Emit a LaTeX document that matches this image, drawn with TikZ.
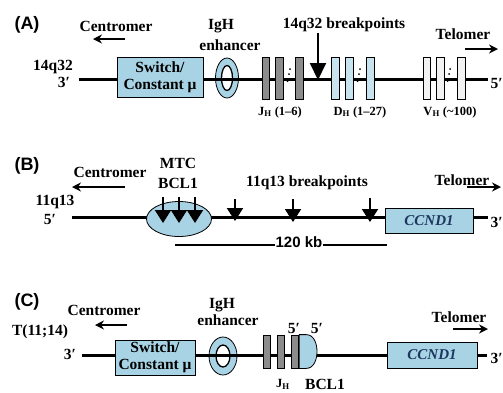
\documentclass[tikz,border=0pt]{standalone}
\usepackage{fontspec}
\setmainfont{Liberation Serif}
\setsansfont{Liberation Sans}
\usetikzlibrary{calc,arrows.meta,shapes.geometric}
\definecolor{GeneBG}{HTML}{A8D3E4}
\definecolor{SegD}{HTML}{C6E3EE}
\definecolor{SegJ}{HTML}{8C8C8C}
\definecolor{SegV}{HTML}{F2F2F2}
\definecolor{GeneText}{HTML}{1C3660}

\begin{document}
\begin{tikzpicture}[x=1pt,y=-1pt,>=Stealth]
  \tikzstyle{lbl}=[font=\fontsize{15.5}{16}\selectfont\bfseries, inner sep=0pt]
  \tikzstyle{subl}=[font=\fontsize{12.5}{13}\selectfont\bfseries, inner sep=0pt]
  \tikzstyle{panel}=[font=\fontsize{18}{18}\selectfont\sffamily\bfseries, inner sep=0pt]
  \tikzstyle{chrom}=[line width=3pt]
  \tikzstyle{genebox}=[draw, fill=GeneBG, line width=0.8pt, inner sep=0pt,
               align=center, font=\fontsize{15.5}{17}\selectfont\bfseries]
  \tikzstyle{ccnd}=[genebox, text=GeneText, font=\fontsize{15}{16}\selectfont\bfseries\itshape]
  \tikzstyle{seg}=[draw, line width=0.8pt, minimum width=7.5pt, inner sep=0pt]
  \tikzstyle{enhout}=[draw, ellipse, fill=GeneBG, line width=0.8pt, inner sep=0pt]
  \tikzstyle{enhin}=[draw, ellipse, fill=white, line width=1.3pt, inner sep=0pt]
  \tikzstyle{dirarr}=[-{Stealth[length=9pt,width=9pt]}, line width=1.4pt]
  \tikzstyle{brkarr}=[-{Triangle[length=13pt,width=16pt]}, line width=2pt]
  \useasboundingbox (0,0) rectangle (503,392);

  % (A) 14q32 locus
  \node[panel] (pA) at (27,25) {(A)};
  \node[lbl] (cenA) at (116,26) {Centromer};
  \coordinate (cenA1) at (125,39);
  \coordinate (cenA2) at (93,39);
  \draw[dirarr] (cenA1) -- (cenA2);
  \node[lbl] (igA) at (221,26) {IgH};
  \node[lbl] (enhA) at (230,45) {enhancer};
  \node[lbl] (locA) at (53,67) {14q32};
  \node[lbl] (endA) at (64,82) {3′};
  \node[lbl, anchor=east] (endA5) at (503,83) {5′};
  \node[enhout, minimum width=23pt, minimum height=40pt] (enhoA) at (227,78) {};
  \node[enhin, minimum width=11pt, minimum height=25pt] (enhiA) at (227,78) {};
  \coordinate (lA1) at (79,79);
  \coordinate (lA2) at (488,79);
  \draw[chrom] (lA1) -- (lA2);
  \node[genebox, minimum width=86pt, minimum height=40pt] (swA) at (160,77) {Switch/\\Constant μ};
  \node[seg, fill=SegJ, minimum height=42pt] (jA1) at (266,78) {};
  \node[seg, fill=SegJ, minimum height=42pt] (jA2) at (279.5,78) {};
  \node[seg, fill=SegJ, minimum height=42pt] (jA3) at (299.5,78) {};
  \node[seg, fill=SegD, minimum height=42pt] (dA1) at (335.5,78) {};
  \node[seg, fill=SegD, minimum height=42pt] (dA2) at (349.5,78) {};
  \node[seg, fill=SegD, minimum height=42pt] (dA3) at (370.5,78) {};
  \node[seg, fill=SegV, minimum height=42pt] (vA1) at (427,78) {};
  \node[seg, fill=SegV, minimum height=42pt] (vA2) at (440.5,78) {};
  \node[seg, fill=SegV, minimum height=42pt] (vA3) at (461.5,78) {};
  \fill (290,69) circle (1pt) (289,74) circle (1pt) (287.5,81) circle (1pt);
  \fill (360,69) circle (1pt) (359,74) circle (1pt) (357.5,81) circle (1pt);
  \fill (450,69) circle (1pt) (449,74) circle (1pt) (447.5,81) circle (1pt);
  \node[lbl] (bkA) at (344,25) {14q32 breakpoints};
  \coordinate (bkA1) at (318,33);
  \coordinate (bkA2) at (318,80);
  \draw[brkarr, -{Triangle[length=17pt,width=16pt]}] (bkA1) -- (bkA2);
  \node[subl] (jA) at (280,112) {J\textsubscript{H} (1–6)};
  \node[subl] (dA) at (360,112) {D\textsubscript{H} (1–27)};
  \node[subl] (vA) at (450,112) {V\textsubscript{H} (\textasciitilde100)};
  \node[lbl] (telA) at (463,34) {Telomer};
  \coordinate (telA1) at (465,49);
  \coordinate (telA2) at (498,49);
  \draw[dirarr] (telA1) -- (telA2);

  % (B) 11q13 locus
  \node[panel] (pB) at (27,166) {(B)};
  \node[lbl] (cenB) at (110,172) {Centromer};
  \coordinate (cenB1) at (125,187);
  \coordinate (cenB2) at (72,187);
  \draw[dirarr] (cenB1) -- (cenB2);
  \node[lbl] (mtcB) at (178,163) {MTC};
  \node[lbl] (bclB) at (178,183) {BCL1};
  \node[lbl] (locB) at (55,202) {11q13};
  \node[lbl] (endB) at (50,219) {5′};
  \node[lbl, anchor=east] (endB3) at (503,222) {3′};
  \coordinate (lB1) at (72,217);
  \coordinate (lB2) at (488,217);
  \draw[chrom] (lB1) -- (lB2);
  \node[enhout, minimum width=65pt, minimum height=35pt] (mtcE) at (179,219) {};
  \node[ccnd, minimum width=88pt, minimum height=25pt] (ccB) at (429,220.5) {CCND1};
  \coordinate (bkB1) at (163,197); \coordinate (bkB1e) at (163,223);
  \coordinate (bkB2) at (179,197); \coordinate (bkB2e) at (179,223);
  \coordinate (bkB3) at (195,197); \coordinate (bkB3e) at (195,223);
  \coordinate (bkB4) at (235,199); \coordinate (bkB4e) at (235,221);
  \coordinate (bkB5) at (293,199); \coordinate (bkB5e) at (293,222);
  \coordinate (bkB6) at (370,198); \coordinate (bkB6e) at (370,222);
  \draw[brkarr] (bkB1) -- (bkB1e);
  \draw[brkarr] (bkB2) -- (bkB2e);
  \draw[brkarr] (bkB3) -- (bkB3e);
  \draw[brkarr] (bkB4) -- (bkB4e);
  \draw[brkarr] (bkB5) -- (bkB5e);
  \draw[brkarr] (bkB6) -- (bkB6e);
  \node[lbl] (bkB) at (307,183) {11q13 breakpoints};
  \node[font=\fontsize{15}{15}\selectfont\sffamily\bfseries, inner sep=0pt] (kb) at (299,242) {120 kb};
  \coordinate (kbL) at (175,245);
  \coordinate (kbR) at (387,245);
  \draw[line width=1.1pt] (kbL) -- (kb.west |- kbL);
  \draw[line width=1.1pt] (kb.east |- kbR) -- (kbR);
  \node[lbl] (telB) at (462,180) {Telomer};
  \coordinate (telB1) at (467,187);
  \coordinate (telB2) at (501,187);
  \draw[dirarr] (telB1) -- (telB2);

  % (C) t(11;14) junction
  \node[panel] (pC) at (27,302) {(C)};
  \node[lbl] (cenC) at (104,310) {Centromer};
  \coordinate (cenC1) at (127,325);
  \coordinate (cenC2) at (95,325);
  \draw[dirarr] (cenC1) -- (cenC2);
  \node[lbl] (igC) at (222,305) {IgH};
  \node[lbl] (enhC) at (228,320) {enhancer};
  \node[lbl] (locC) at (40,332) {T(11;14)};
  \node[lbl] (endC) at (70,354) {3′};
  \node[lbl, anchor=east] (endC3) at (503,358) {3′};
  \node[enhout, minimum width=28pt, minimum height=38pt] (enhoC) at (223,356) {};
  \node[enhin, minimum width=14pt, minimum height=22pt] (enhiC) at (223,356) {};
  \coordinate (lC1) at (82,355);
  \coordinate (lC2) at (487,355);
  \draw[chrom] (lC1) -- (lC2);
  \node[genebox, minimum width=80pt, minimum height=35pt] (swC) at (155,357.5) {Switch/\\Constant μ};
  \node[seg, fill=SegJ, minimum height=33pt] (jC1) at (267,351.5) {};
  \node[seg, fill=SegJ, minimum height=33pt] (jC2) at (281,351.5) {};
  \node[seg, fill=SegJ, minimum height=33pt] (jC3) at (295,351.5) {};
  \filldraw[fill=GeneBG, line width=0.8pt] (jC3.north east) -- ++(7,0)
    to[out=0,in=90] (317,351.5) to[out=-90,in=0] ($(jC3.south east)+(7,0)$) -- (jC3.south east) -- cycle;
  \node[lbl] (fiveC1) at (294,328) {5′};
  \node[lbl] (fiveC2) at (317,328) {5′};
  \node[subl] (jC) at (283,384) {J\textsubscript{H}};
  \node[lbl] (bclC) at (325,384) {BCL1};
  \node[ccnd, minimum width=90pt, minimum height=26pt] (ccC) at (432,355) {CCND1};
  \node[lbl] (telC) at (459,317) {Telomer};
  \coordinate (telC1) at (453,329);
  \coordinate (telC2) at (488,329);
  \draw[dirarr] (telC1) -- (telC2);
\end{tikzpicture}
\end{document}
